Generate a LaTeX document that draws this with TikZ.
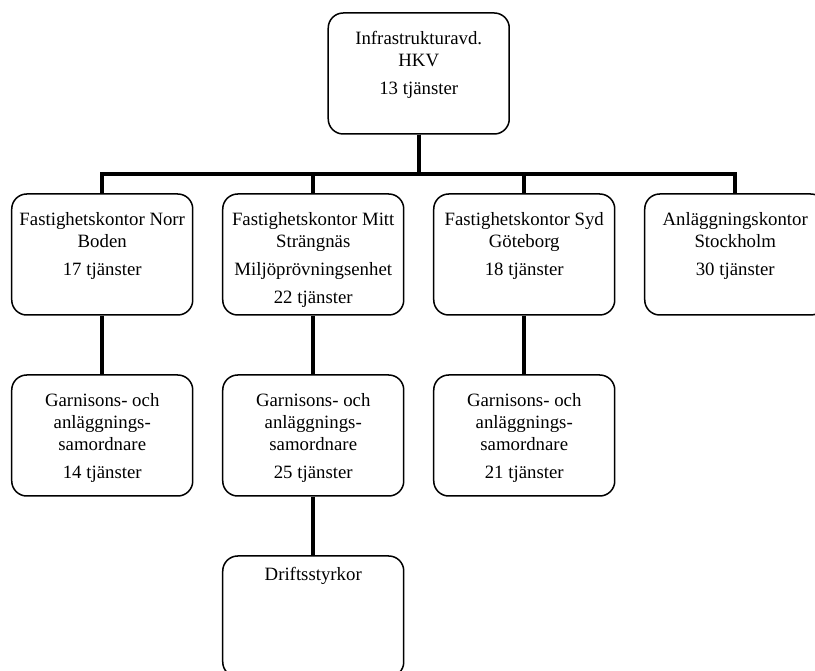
\documentclass[tikz,border=0pt]{standalone}
\usepackage{fontspec}
\setmainfont{Liberation Serif}
\newcommand{\ruta}[2][31.7pt]{\parbox[c][121pt][t]{181pt}{\centering\rule{0pt}{#1}#2}}
\begin{document}
\begin{tikzpicture}[level distance=181pt,
                    level 1/.style={sibling distance=211pt}]
    \tikzstyle{edge from parent}=[draw,line width=4.2pt]
    \tikzstyle{enhet}=[draw,line width=1.5pt,rounded corners=15pt,inner sep=0pt,
                       font=\fontsize{18.8}{22}\selectfont]
    \tikzset{edge from parent path={(\tikzparentnode.south) -- ++(0,-39.3pt) -| (\tikzchildnode.north)}}
    \useasboundingbox (-418.75pt,73.5pt) rectangle (396.25pt,-597.5pt);
    \clip (-418.75pt,73.5pt) rectangle (396.25pt,-597.5pt);
    \node[enhet] (hkv) {\ruta{Infrastrukturavd.\\HKV\\[6pt]13 tjänster}}
       child {node[enhet] (norr) {\ruta{Fastighetskontor Norr\\Boden\\[6pt]17 tjänster}}
          child {node[enhet] (norrsam) {\ruta{Garnisons- och\\anläggnings-\\samordnare\\[6pt]14 tjänster}}}
       }
       child {node[enhet] (mitt) {\ruta{Fastighetskontor Mitt\\Strängnäs\\[6pt]Miljöprövningsenhet\\[6pt]22 tjänster}}
          child {node[enhet] (mittsam) {\ruta{Garnisons- och\\anläggnings-\\samordnare\\[6pt]25 tjänster}}
             child {node[enhet] (drift) {\ruta[24.7pt]{Driftsstyrkor}}}
          }
       }
       child {node[enhet] (syd) {\ruta{Fastighetskontor Syd\\Göteborg\\[6pt]18 tjänster}}
          child {node[enhet] (sydsam) {\ruta{Garnisons- och\\anläggnings-\\samordnare\\[6pt]21 tjänster}}}
       }
       child {node[enhet] (anl) {\ruta{Anläggningskontor\\Stockholm\\[6pt]30 tjänster}}};
\end{tikzpicture}
\end{document}
